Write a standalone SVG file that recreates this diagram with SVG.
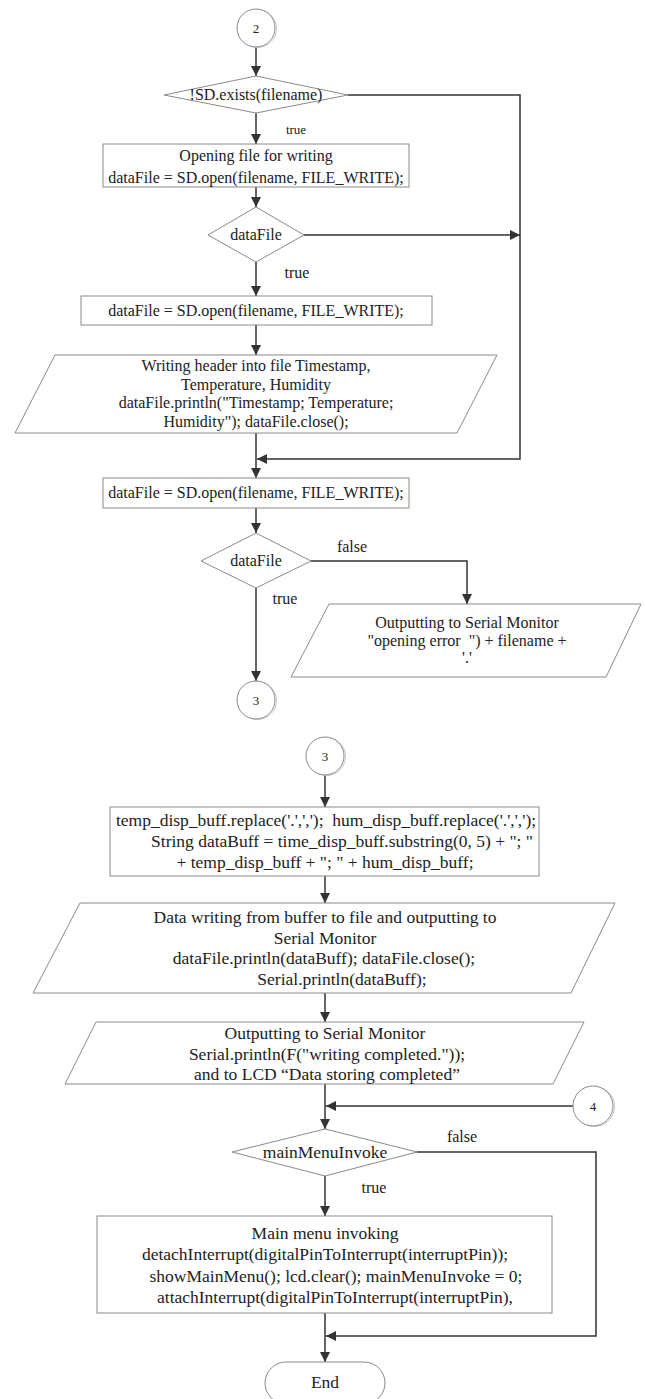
<svg xmlns="http://www.w3.org/2000/svg" width="645" height="1399" viewBox="0 0 645 1399">
<style>
.shape{fill:#fff;stroke:#8a8a8a;stroke-width:1}
.shadow{fill:none;stroke:#c8c8c8;stroke-width:1}
.conn{fill:none;stroke:#333;stroke-width:1.5}
text{font-family:"Liberation Serif","Times New Roman",serif;font-size:16px;fill:#222;text-anchor:middle;white-space:pre}
.lbl{font-size:16px}
.num{font-size:13px}
.big{font-size:17.5px}
</style>
<defs>
<marker id="ah" viewBox="0 0 10 10" refX="10" refY="5" markerWidth="10" markerHeight="10" markerUnits="userSpaceOnUse" orient="auto">
<path d="M0,0 L10,5 L0,10 z" fill="#333"/>
</marker>
</defs>
<rect width="645" height="1399" fill="#fff"/>
<g id="connectors">
<path class="conn" d="M256,47 V76" marker-end="url(#ah)"/>
<path class="conn" d="M256,113 V144" marker-end="url(#ah)"/>
<path class="conn" d="M348,95 H520 V459 H257" marker-end="url(#ah)"/>
<path class="conn" d="M256,187 V207" marker-end="url(#ah)"/>
<path class="conn" d="M304,235 H520" marker-end="url(#ah)"/>
<path class="conn" d="M256,262 V296" marker-end="url(#ah)"/>
<path class="conn" d="M256,325 V355" marker-end="url(#ah)"/>
<path class="conn" d="M256,433 V478" marker-end="url(#ah)"/>
<path class="conn" d="M256,508 V533" marker-end="url(#ah)"/>
<path class="conn" d="M311,561 H467 V604" marker-end="url(#ah)"/>
<path class="conn" d="M256,588 V681" marker-end="url(#ah)"/>
<path class="conn" d="M325,775 V807" marker-end="url(#ah)"/>
<path class="conn" d="M325,876 V903" marker-end="url(#ah)"/>
<path class="conn" d="M325,993 V1022" marker-end="url(#ah)"/>
<path class="conn" d="M325,1084 V1129" marker-end="url(#ah)"/>
<path class="conn" d="M573,1106 H326" marker-end="url(#ah)"/>
<path class="conn" d="M417,1152 H596 V1336 H326" marker-end="url(#ah)"/>
<path class="conn" d="M325,1176 V1216" marker-end="url(#ah)"/>
<path class="conn" d="M325,1313 V1362" marker-end="url(#ah)"/>
<text class="num" x="296" y="134">true</text>
<text class="lbl" x="297" y="278">true</text>
<text class="lbl" x="352" y="552">false</text>
<text class="lbl" x="285" y="604">true</text>
<text class="lbl" x="462" y="1142">false</text>
<text class="lbl" x="374" y="1193">true</text>
</g>
<g id="conn2">
<circle class="shadow" cx="257.5" cy="28.5" r="19"/>
<circle class="shape" cx="256" cy="28" r="19"/>
<text class="num" x="256" y="33">2</text>
</g>
<g id="dec1">
<polygon class="shape" points="164,95 256,76 348,95 256,113"/>
<text x="256" y="100">!SD.exists(filename)</text>
</g>
<g id="open1">
<rect class="shape" x="103" y="144" width="306" height="43"/>
<text x="256" y="161">Opening file for writing</text>
<text x="256" y="183">dataFile = SD.open(filename, FILE_WRITE);</text>
</g>
<g id="dec2">
<polygon class="shape" points="208,235 256,207 304,235 256,262"/>
<text x="256" y="240">dataFile</text>
</g>
<g id="open2">
<rect class="shape" x="81" y="296" width="351" height="29"/>
<text x="256" y="316">dataFile = SD.open(filename, FILE_WRITE);</text>
</g>
<g id="header">
<polygon class="shape" points="55,355 497,355 457,433 15,433"/>
<text x="256" y="371">Writing header into file Timestamp,</text>
<text x="256" y="390">Temperature, Humidity</text>
<text x="256" y="408">dataFile.println("Timestamp; Temperature;</text>
<text x="256" y="427">Humidity"); dataFile.close();</text>
</g>
<g id="open3">
<rect class="shape" x="103" y="478" width="306" height="30"/>
<text x="256" y="498">dataFile = SD.open(filename, FILE_WRITE);</text>
</g>
<g id="dec3">
<polygon class="shape" points="201,561 256,533 311,561 256,588"/>
<text x="256" y="566">dataFile</text>
</g>
<g id="error">
<polygon class="shape" points="329,604 641,604 606,677 291,677"/>
<text x="467" y="628">Outputting to Serial Monitor</text>
<text x="467" y="646">"opening error  ") + filename +</text>
<text x="467" y="663">'.'</text>
</g>
<g id="conn3a">
<circle class="shadow" cx="257.5" cy="700.5" r="19"/>
<circle class="shape" cx="256" cy="700" r="19"/>
<text class="num" x="256" y="705">3</text>
</g>
<g id="conn3b">
<circle class="shadow" cx="326.5" cy="756.5" r="19"/>
<circle class="shape" cx="325" cy="756" r="19"/>
<text class="num" x="325" y="761">3</text>
</g>
<g id="buff">
<rect class="shape" x="110" y="807" width="429" height="69"/>
<text class="big" x="326" y="826">temp_disp_buff.replace('.',',');  hum_disp_buff.replace('.',',');</text>
<text class="big" x="342" y="847">String dataBuff = time_disp_buff.substring(0, 5) + "; "</text>
<text class="big" x="325" y="868">+ temp_disp_buff + "; " + hum_disp_buff;</text>
</g>
<g id="write">
<polygon class="shape" points="80,903 615,903 571,993 33,993"/>
<text class="big" x="325" y="923">Data writing from buffer to file and outputting to</text>
<text class="big" x="325" y="944">Serial Monitor</text>
<text class="big" x="324" y="964">dataFile.println(dataBuff); dataFile.close();</text>
<text class="big" x="342" y="985">Serial.println(dataBuff);</text>
</g>
<g id="done">
<polygon class="shape" points="96,1022 584,1022 553,1084 65,1084"/>
<text class="big" x="325" y="1039">Outputting to Serial Monitor</text>
<text class="big" x="327" y="1060">Serial.println(F("writing completed."));</text>
<text class="big" x="327" y="1080">and to LCD “Data storing completed”</text>
</g>
<g id="conn4">
<circle class="shadow" cx="594.5" cy="1106.5" r="20"/>
<circle class="shape" cx="593" cy="1106" r="20"/>
<text class="num" x="593" y="1111">4</text>
</g>
<g id="dec4">
<polygon class="shape" points="232,1152 325,1129 417,1152 325,1176"/>
<text class="big" x="325" y="1158">mainMenuInvoke</text>
</g>
<g id="menu">
<rect class="shape" x="97" y="1216" width="455" height="97"/>
<text class="big" x="325" y="1239">Main menu invoking</text>
<text class="big" x="325" y="1260">detachInterrupt(digitalPinToInterrupt(interruptPin));</text>
<text class="big" x="336" y="1282">showMainMenu(); lcd.clear(); mainMenuInvoke = 0;</text>
<text class="big" x="335" y="1303">attachInterrupt(digitalPinToInterrupt(interruptPin),</text>
</g>
<g id="end">
<rect class="shape" x="265" y="1362" width="120" height="42" rx="21"/>
<text class="big" x="325" y="1388">End</text>
</g>
</svg>
